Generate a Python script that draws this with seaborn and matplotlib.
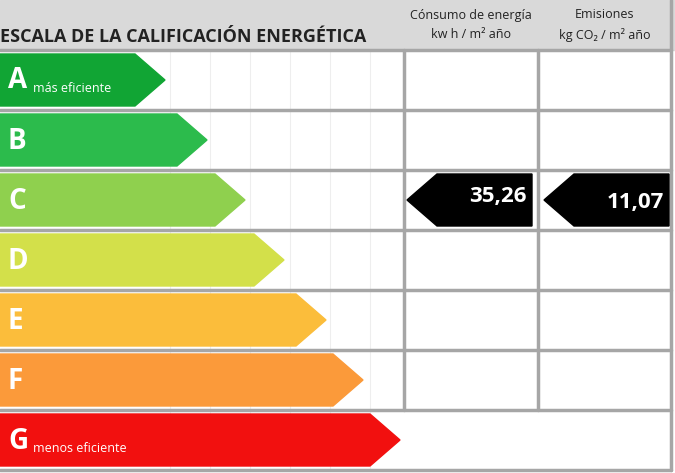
import matplotlib
matplotlib.use("Agg")
import matplotlib.pyplot as plt
import seaborn as sns
from matplotlib.patches import Polygon, Rectangle

sns.set_style("white")
plt.rcParams['font.family'] = ['Open Sans', 'DejaVu Sans']

letters = ["A", "B", "C", "D", "E", "F", "G"]
subtitles = ["más eficiente", "", "", "", "", "", "menos eficiente"]
tips = [165, 207, 245, 284, 326, 363, 400]
colors = ["#11a534", "#2cbb4c", "#8fd04e", "#d3e04a", "#fbbd3b", "#fb9a3a", "#f2100f"]
rating = "C"
consumo = "35,26"
emisiones = "11,07"

fig = plt.figure(figsize=(6.75, 4.73), dpi=100)
ax = fig.add_axes([0, 0, 1, 1])
ax.set_xlim(0, 675)
ax.set_ylim(473, 0)
ax.axis("off")

grey = "#a6a6a6"
ax.add_patch(Rectangle((0, 0), 675, 50, color="#d9d9d9", zorder=0))
ax.text(0, 37, "ESCALA DE LA CALIFICACIÓN ENERGÉTICA", fontsize=13,
        fontweight="bold", color="#222222", va="center")
ax.text(471, 15, "Cónsumo de energía", fontsize=9, ha="center", va="center", color="#222222")
ax.text(471, 35, "kw h / m² año", fontsize=9, ha="center", va="center", color="#222222")
ax.text(605, 15, "Emisiones", fontsize=9, ha="center", va="center", color="#222222")
ax.text(605, 35, "kg CO₂ / m² año", fontsize=9, ha="center", va="center", color="#222222")

row_h = 60
top = 50
for i, (l, s, t, c) in enumerate(zip(letters, subtitles, tips, colors)):
    y0 = top + i * row_h + 4
    y1 = y0 + 52
    ym = (y0 + y1) / 2
    ax.add_patch(Polygon([(0, y0), (t - 30, y0), (t, ym), (t - 30, y1), (0, y1)],
                         closed=True, color=c, zorder=2))
    ax.text(8, ym + 1, l, fontsize=20, fontweight="bold", color="white", va="center", zorder=3)
    if s:
        ax.text(33, ym + 8, s, fontsize=9, color="white", va="center", zorder=3)
    if l == rating:
        for x0, val, dy in [(407, consumo, -4), (544, emisiones, 2)]:
            ax.add_patch(Polygon([(x0, ym), (x0 + 30, y0), (x0 + 125, y0), (x0 + 125, y1),
                                  (x0 + 30, y1)], closed=True, color="black", zorder=2))
            ax.text(x0 + 120, ym + dy, val, fontsize=16, fontweight="bold", color="white",
                    ha="right", va="center", zorder=3)

# grid
for i in range(8):
    y = top + i * row_h
    ax.plot([0, 671], [y, y], color=grey, lw=2.5, zorder=1)
ax.plot([404, 404], [top, top + 6 * row_h], color=grey, lw=2.5, zorder=1)
ax.plot([538, 538], [top, top + 6 * row_h], color=grey, lw=2.5, zorder=1)
ax.plot([671, 671], [0, top + 7 * row_h], color=grey, lw=2.5, zorder=1)
for x in [170, 210, 250, 290, 330, 370]:
    ax.plot([x, x], [top, top + 7 * row_h], color="#eeeeee", lw=0.8, zorder=0.5)

fig.savefig("out.png", dpi=100)
